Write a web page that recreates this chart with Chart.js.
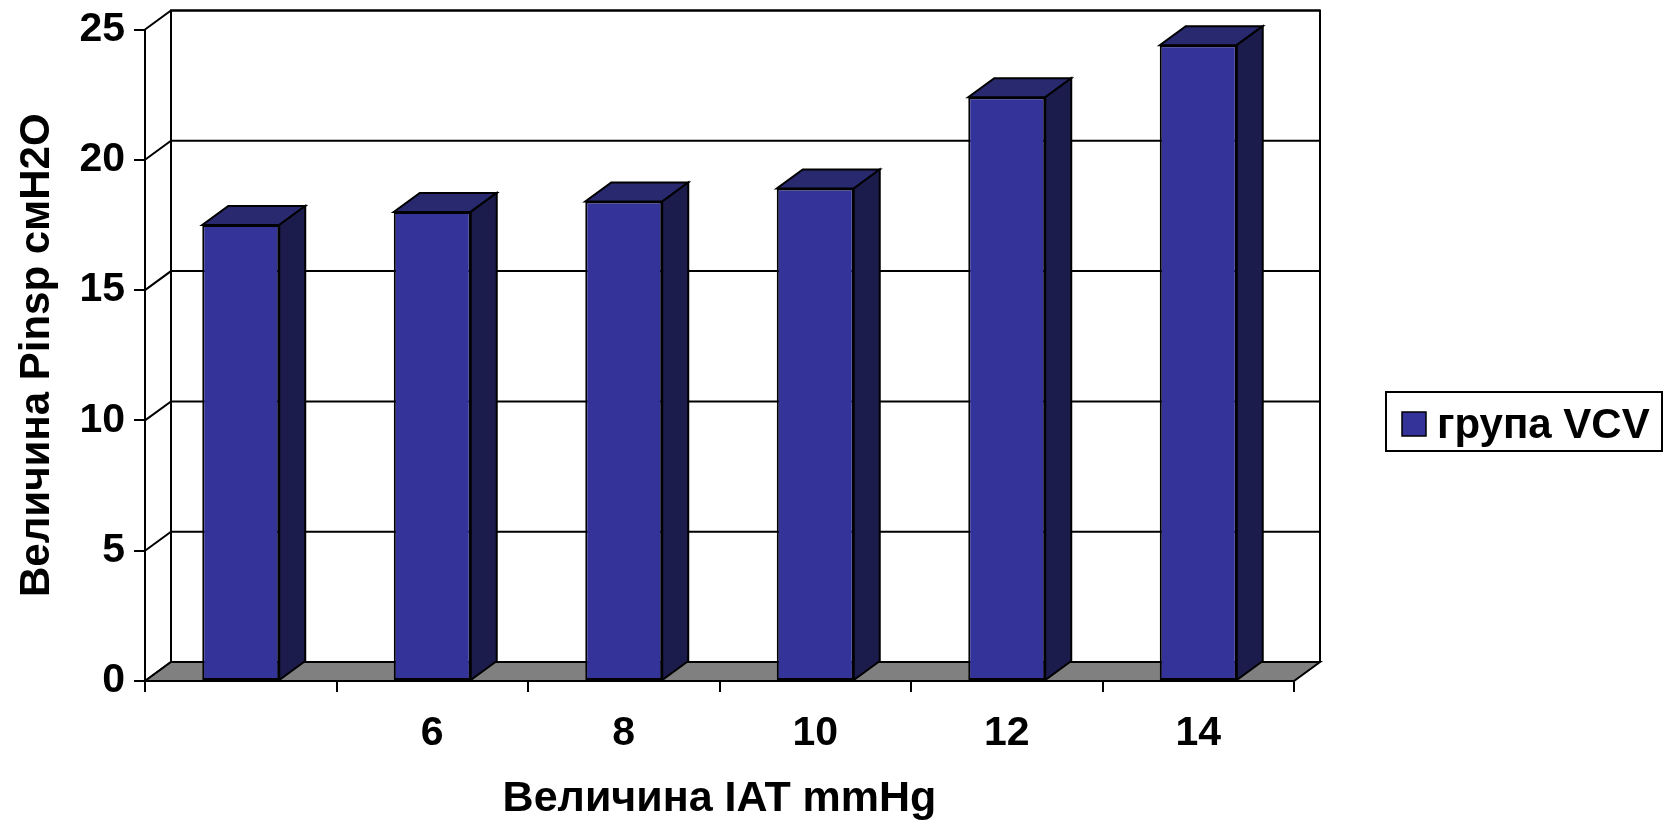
<!DOCTYPE html>
<html>
<head>
<meta charset="utf-8">
<script src="https://cdn.jsdelivr.net/npm/chart.js@4.4.1/dist/chart.umd.min.js"></script>
<style>
  html, body { margin: 0; padding: 0; background: #fff; }
  canvas { display: block; }
</style>
</head>
<body>
<canvas id="chart" width="1669" height="823"></canvas>
<script>
// Data
const categories = ['', '6', '8', '10', '12', '14'];
const pinspVCV = [17.5, 18.0, 18.4, 18.9, 22.4, 24.4];
const seriesName = 'група VCV';
const xTitle = 'Величина IAT mmHg';
const yTitle = 'Величина Pinsp смH2O';
const yMin = 0, yMax = 25, yStep = 5;

// Styling
const FONT = "'Liberation Sans', Arial, sans-serif";
const DX = 26, DY = 19;            // depth offset of the 3D box
const FRONT = '#333399', TOP = '#29296f', SIDE = '#1c1c4c', FLOOR = '#808080';

function poly(ctx, pts, fill) {
  ctx.beginPath();
  ctx.moveTo(pts[0][0], pts[0][1]);
  for (let i = 1; i < pts.length; i++) ctx.lineTo(pts[i][0], pts[i][1]);
  ctx.closePath();
  if (fill) { ctx.fillStyle = fill; ctx.fill(); }
  ctx.stroke();
}

// Back wall, floor, and the top/side faces of the columns
const depthPlugin = {
  id: 'depth3d',
  beforeDatasetsDraw(chart) {
    const { ctx, chartArea: a, scales: { y } } = chart;
    ctx.save();
    ctx.strokeStyle = '#000';
    ctx.lineWidth = 2;
    ctx.lineJoin = 'miter';
    y.ticks.forEach(t => {
      const py = y.getPixelForValue(t.value);
      ctx.beginPath();
      ctx.moveTo(a.left, py);
      ctx.lineTo(a.left + DX, py - DY);
      ctx.lineTo(a.right + DX, py - DY);
      ctx.stroke();
    });
    const wallTop = y.getPixelForValue(yMax) - DY;
    const base = y.getPixelForValue(yMin);
    ctx.beginPath();
    ctx.moveTo(a.left + DX, base - DY);
    ctx.lineTo(a.left + DX, wallTop);
    ctx.lineTo(a.right + DX, wallTop);
    ctx.lineTo(a.right + DX, base - DY);
    ctx.stroke();
    poly(ctx, [[a.left, base], [a.right, base], [a.right + DX, base - DY], [a.left + DX, base - DY]], FLOOR);
    ctx.restore();
  },
  afterDatasetsDraw(chart) {
    const { ctx } = chart;
    const meta = chart.getDatasetMeta(0);
    ctx.save();
    ctx.strokeStyle = '#000';
    ctx.lineWidth = 2;
    ctx.lineJoin = 'miter';
    meta.data.forEach(el => {
      const { x, y, base, width } = el.getProps(['x', 'y', 'base', 'width'], true);
      const l = x - width / 2, r = x + width / 2;
      poly(ctx, [[l, y], [r, y], [r + DX, y - DY], [l + DX, y - DY]], TOP);
      poly(ctx, [[r, y], [r + DX, y - DY], [r + DX, base - DY], [r, base]], SIDE);
    });
    ctx.restore();
  },
  afterDraw(chart) {
    // legend box
    const { ctx } = chart;
    const ds = chart.data.datasets[0];
    ctx.save();
    ctx.strokeStyle = '#000';
    ctx.lineWidth = 2;
    ctx.fillStyle = '#fff';
    ctx.fillRect(1386, 392, 276, 59);
    ctx.strokeRect(1386, 392, 276, 59);
    ctx.lineWidth = 1.5;
    ctx.fillStyle = ds.backgroundColor;
    ctx.fillRect(1402, 412, 24, 24);
    ctx.strokeRect(1402, 412, 24, 24);
    ctx.fillStyle = '#000';
    ctx.font = `bold 42px ${FONT}`;
    ctx.textAlign = 'left';
    ctx.textBaseline = 'alphabetic';
    ctx.fillText(ds.label, 1437, 438);
    ctx.restore();
  }
};

new Chart(document.getElementById('chart'), {
  type: 'bar',
  data: {
    labels: categories,
    datasets: [{
      label: seriesName,
      data: pinspVCV,
      backgroundColor: FRONT,
      borderColor: '#000',
      borderWidth: 2,
      borderSkipped: false,
      barPercentage: 0.402,
      categoryPercentage: 1.0
    }]
  },
  options: {
    responsive: false,
    devicePixelRatio: 1,
    animation: false,
    layout: { padding: { left: 0, top: 29, right: 375, bottom: 0 } },
    plugins: { legend: { display: false }, tooltip: { enabled: false } },
    scales: {
      x: {
        grid: { offset: true, drawOnChartArea: false, drawTicks: true, tickLength: 11, color: '#000', lineWidth: 2 },
        border: { display: true, color: '#000', width: 2 },
        ticks: { color: '#000', padding: 21, font: { family: FONT, size: 41, weight: 'bold', lineHeight: 1 } },
        title: { display: true, text: xTitle, color: '#000', padding: { top: 0, bottom: 2 },
                 font: { family: FONT, size: 43, weight: 'bold', lineHeight: 1 } },
        afterFit(s) { s.height = 142; }
      },
      y: {
        min: yMin, max: yMax,
        grid: { drawOnChartArea: false, drawTicks: true, tickLength: 11, color: '#000', lineWidth: 2 },
        border: { display: true, color: '#000', width: 2 },
        ticks: { stepSize: yStep, color: '#000', padding: 9, font: { family: FONT, size: 41, weight: 'bold', lineHeight: 1 } },
        title: { display: true, text: yTitle, color: '#000', padding: { top: 16, bottom: 0 },
                 font: { family: FONT, size: 42, weight: 'bold', lineHeight: 1 } },
        afterFit(s) { s.width = 145; }
      }
    }
  },
  plugins: [depthPlugin]
});
</script>
</body>
</html>
